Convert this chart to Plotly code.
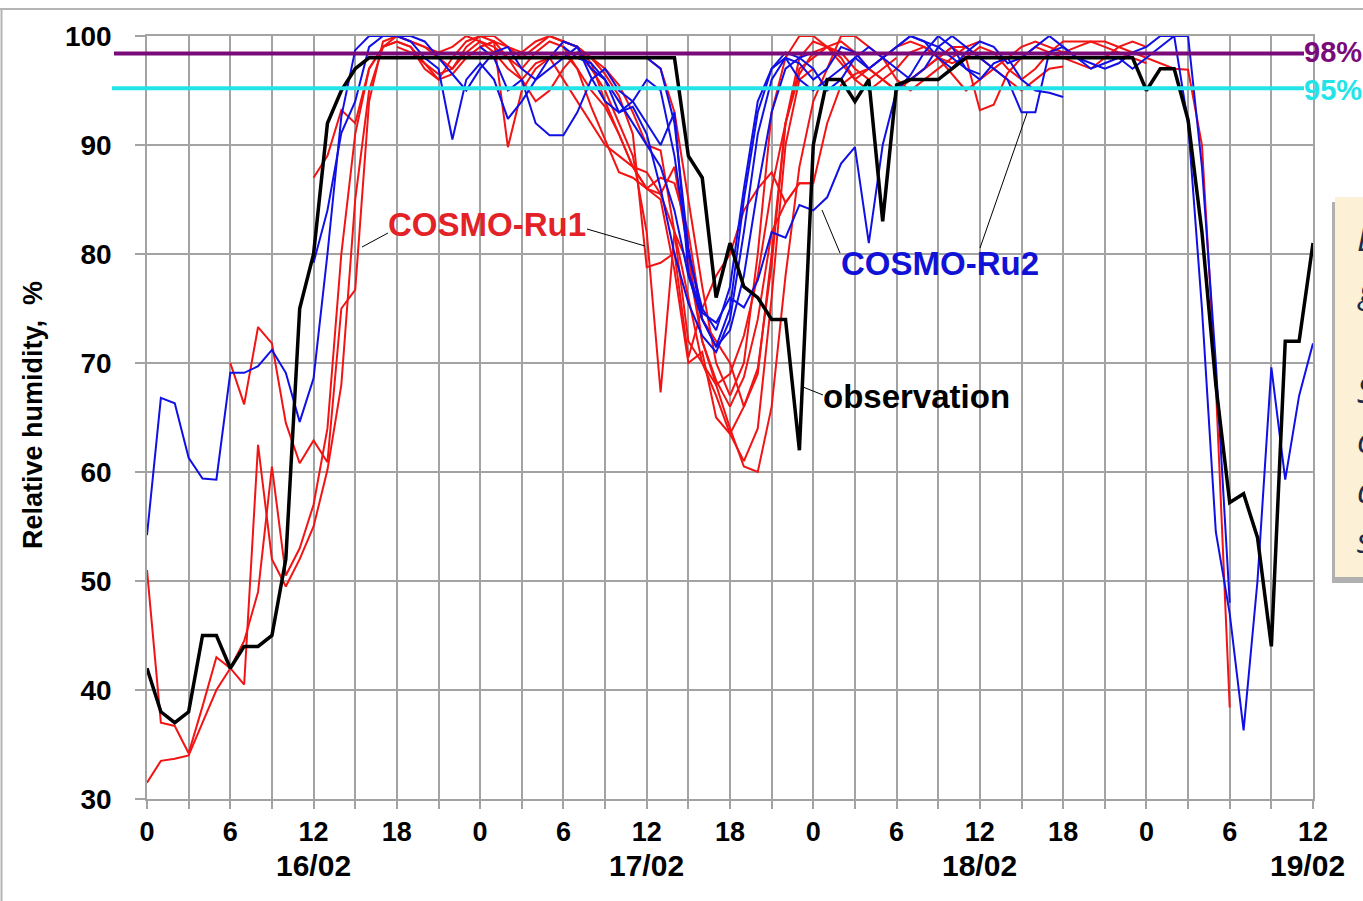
import plotly.graph_objects as go

# ---------------- data ----------------
hours_obs = list(range(0, 85))
observation = [42, 38, 37, 38, 45, 45,
               42, 44, 44, 45, 52, 75,
               80, 92, 95, 97, 98, 98,
               98, 98, 98, 98, 98, 98,
               98, 98, 98, 98, 98, 98,
               98, 98, 98, 98, 98, 98,
               98, 98, 98, 89, 87, 76,
               81, 77, 76, 74, 74, 62,
               90, 96, 96, 94, 96, 83,
               95.5, 96, 96, 96, 97, 98,
               98, 98, 98, 98, 98, 98,
               98, 98, 98, 98, 98, 98,
               95, 97, 97, 92.3, 82, 68,
               57.2, 58, 54, 44, 72, 72,
               81]

# COSMO-Ru1 forecast runs (start hour, hourly values)
ru1_starts = [0, 0, 6, 12, 18, 24, 30, 36]
ru1_r1 = [51, 37, 36.7, 34.2, 38.5, 43,
          42, 40.5, 62.5, 52, 49.5, 52,
          55, 60.2, 68, 85, 95, 99,
          99.5, 99, 97.5, 96.5, 97, 98.5,
          99.5, 99, 98, 97, 98.5, 99.5,
          99, 97, 93.5, 90.5, 87.5, 87,
          86, 85.5, 88, 80, 72, 68.4,
          66, 68.7, 74, 82, 84.7, 86.5,
          86.5]
ru1_r2 = [31.5, 33.5, 33.7, 34, 37, 40,
          42, 44.5, 49, 60.5, 50.5, 53,
          57, 64, 80, 91, 97, 99,
          100, 99.5, 99, 98.5, 99, 100,
          99.5, 98.5, 97, 96, 97.5, 98,
          96, 94, 92, 90, 89, 88,
          87.5, 85.5, 82, 76, 70, 67,
          63.5, 61, 64, 76, 90, 96,
          97]
ru1_r3 = [70, 66.2, 73.3, 71.8, 64.5, 60.8,
          62.9, 60.9, 75, 76.7, 94, 99.5,
          100, 99.5, 99, 98, 97, 99,
          100, 100, 99, 98, 99, 100,
          99.5, 99, 97.5, 94, 91, 88,
          86, 85, 78.5, 70, 71, 65,
          63.5, 66, 69, 80, 92, 98,
          99.5, 99, 98.5, 97, 96, 97,
          98]
ru1_r4 = [87, 89, 93.2, 92, 97, 99,
          99.5, 99, 97, 96, 98, 99.5,
          100, 99.5, 98, 96, 94, 95,
          97, 98.5, 97, 95, 92, 89,
          82, 67.3, 82, 79, 72, 68,
          64, 60.5, 60, 66, 78, 88,
          94, 97, 100, 100, 99, 98,
          96, 95, 96, 97, 98, 99,
          99.5]
ru1_r5 = [99, 98.5, 97.5, 96, 96.5, 98,
          99, 99.5, 89.8, 95, 97, 98,
          98.5, 97, 95, 93.5, 91, 88,
          86, 87, 86.5, 82, 74, 72,
          70, 66, 69.5, 79, 92, 97,
          98, 99, 99.5, 98.5, 97, 96,
          95, 96, 97, 98, 99, 99,
          98, 97, 96, 95, 96, 97,
          97.2]
ru1_r6 = [99, 99.5, 99, 98.5, 99.5, 100,
          99.5, 99, 98, 96.5, 94.5, 91,
          78.8, 79.2, 80.1, 70.5, 75, 78,
          80, 84, 86, 87.5, 84.7, 86.5,
          86.5, 92, 95.5, 96.5, 97, 96,
          95, 96, 97, 98, 99, 98,
          93.2, 93.7, 96.6, 98, 99, 98.5,
          98, 97.5, 97, 98, 99, 99.5,
          99]
ru1_r7 = [99.5, 99, 98, 97, 95.5, 93,
          90, 89.5, 82, 72, 70, 68,
          69, 72.5, 78, 86, 92, 96.5,
          98.5, 99, 97.5, 96, 95, 96,
          97, 98.5, 99, 98, 96.5, 95,
          96, 97, 98, 99, 99.5, 99,
          98.5, 99, 99.5, 99.5, 99, 98.5,
          98, 97.5, 97, 96.9, 90, 68,
          38.4]
ru1_r8 = [98, 97, 93, 85, 77, 70,
          67, 70, 80, 93, 98, 100,
          100, 99, 98, 96, 97, 98,
          99, 99.5, 99, 98, 97.5, 98,
          99, 98.5, 97, 96, 97, 98.5,
          99.5, 99.5, 99.5, 99, 98.5, 98,
          97.5]
ru1_runs = [ru1_r1, ru1_r2, ru1_r3, ru1_r4, ru1_r5, ru1_r6, ru1_r7, ru1_r8]

# COSMO-Ru2 forecast runs
ru2_starts = [0, 12, 24, 36, 30]
ru2_r1 = [54.2, 66.8, 66.3, 61.3, 59.4, 59.3,
          69.1, 69.1, 69.7, 71.2, 69.1, 64.6,
          68.6, 80, 92.6, 98.7, 100, 100,
          100, 100, 99.5, 98, 96.5, 95,
          97, 98.5, 99, 97, 96, 98,
          99.5, 99, 97, 96, 94, 92,
          90, 88, 84, 78, 74, 71.5,
          73, 78, 86, 93, 97, 98,
          98.5]
ru2_r2 = [79.2, 84, 91.1, 94, 99, 100,
          100, 99.5, 98, 97, 90.5, 96,
          97.5, 96, 92.4, 94, 96, 97,
          98, 99, 96.2, 94, 93, 93.5,
          91, 86, 80, 75.5, 72.5, 71,
          74, 82, 91, 96, 98, 97.5,
          96, 97, 99, 98.5, 97, 98,
          99, 100, 99.5, 99, 98, 97,
          96.5]
ru2_r3 = [99, 98, 95, 96, 92, 90.9,
          90.9, 93, 96, 97, 95, 94,
          92, 90, 93, 78.3, 74.6, 73.7,
          76, 75.1, 77.6, 82, 81.5, 84.5,
          84, 85.2, 88.3, 89.8, 81, 90,
          95, 96.4, 98.5, 100, 99, 97,
          96, 97.5, 98, 96, 95, 94.8,
          94.4]
ru2_r4 = [98, 97, 92, 80.6, 74, 71.5,
          75, 85, 93, 97, 98.5, 98,
          97, 95, 96, 98, 97, 98,
          99, 100, 99.5, 98, 97, 98.5,
          99.5, 99, 97.5, 98, 99, 100,
          99, 98, 97, 97.5, 98, 97,
          98, 99, 100, 92, 75, 54.5,
          47, 36.3, 50, 69.6, 59.3, 67,
          71.8]
ru2_r5 = [99, 98, 97.5, 96, 93, 94,
          96, 95, 89, 80, 75, 73,
          77, 86, 94, 97, 98, 96,
          95, 96, 97, 98, 99, 98,
          97, 96, 97, 99, 100, 99,
          98, 97, 96, 93, 93, 98.5,
          99, 98, 97.5, 97, 97.5, 98.5,
          99, 100, 100, 100, 88, 70,
          48]
ru2_runs = [ru2_r1, ru2_r2, ru2_r3, ru2_r4, ru2_r5]

threshold_98 = 98.4
threshold_95 = 95.2

xtick_vals = [0, 3, 6, 9, 12, 15, 18, 21, 24, 27, 30, 33, 36, 39, 42,
              45, 48, 51, 54, 57, 60, 63, 66, 69, 72, 75, 78, 81, 84]
xtick_text = ["0", "", "6", "", "12", "", "18", "", "0", "", "6", "", "12", "", "18",
              "", "0", "", "6", "", "12", "", "18", "", "0", "", "6", "", "12"]
day_labels = ["16/02", "17/02", "18/02", "19/02"]
day_label_x = [12, 36, 60, 84]
ytick_vals = [30, 40, 50, 60, 70, 80, 90, 100]

# ---------------- styling ----------------
FONT = "Liberation Sans, Arial, sans-serif"
RED = "#F21414"
BLUE = "#1010E6"
GRID = "#A3A3A3"
W, H = 1363, 901
ML, MR, MT, MB = 147, 50, 36, 102
PW, PH = W - ML - MR, H - MT - MB


def px(xp):
    return (xp - ML) / PW


def py(yp):
    return (H - MB - yp) / PH


fig = go.Figure()

for s, vals in zip(ru1_starts, ru1_runs):
    fig.add_trace(go.Scatter(x=list(range(s, s + len(vals))), y=vals, mode="lines",
                             line=dict(color=RED, width=2), showlegend=False,
                             name="COSMO-Ru1"))
for s, vals in zip(ru2_starts, ru2_runs):
    fig.add_trace(go.Scatter(x=list(range(s, s + len(vals))), y=vals, mode="lines",
                             line=dict(color=BLUE, width=2), showlegend=False,
                             name="COSMO-Ru2"))
fig.add_trace(go.Scatter(x=hours_obs, y=observation, mode="lines",
                         line=dict(color="black", width=3.5), showlegend=False,
                         name="observation"))

shapes = []
# threshold lines
shapes.append(dict(type="line", xref="paper", yref="y", x0=px(114), x1=px(1304),
                   y0=threshold_98, y1=threshold_98, line=dict(color="#7A0A7A", width=4),
                   layer="above"))
shapes.append(dict(type="line", xref="paper", yref="y", x0=px(112), x1=px(1304),
                   y0=threshold_95, y1=threshold_95, line=dict(color="#22E4E8", width=4),
                   layer="above"))
# leader lines (annotation pointers)
leaders = [((388, 233), (362, 247)), ((587, 229), (645, 246)),
           ((840, 253), (822, 210)), ((980, 248), (1027, 113)),
           ((823, 395), (803, 387))]
for (a, b) in leaders:
    shapes.append(dict(type="line", xref="paper", yref="paper",
                       x0=px(a[0]), y0=py(a[1]), x1=px(b[0]), y1=py(b[1]),
                       line=dict(color="black", width=1), layer="above"))
# slide frame
shapes.append(dict(type="line", xref="paper", yref="paper", x0=px(0), x1=px(W),
                   y0=py(9), y1=py(9), line=dict(color="#B4B4B4", width=2)))
shapes.append(dict(type="line", xref="paper", yref="paper", x0=px(1.5), x1=px(1.5),
                   y0=py(9), y1=py(H), line=dict(color="#B4B4B4", width=2)))
# cropped note box at the right
shapes.append(dict(type="rect", xref="paper", yref="paper", x0=px(1332), x1=px(W + 10),
                   y0=py(583), y1=py(202), fillcolor="rgba(80,80,80,0.45)",
                   line=dict(width=0), layer="above"))
shapes.append(dict(type="rect", xref="paper", yref="paper", x0=px(1335), x1=px(W + 10),
                   y0=py(577), y1=py(197), fillcolor="#FCF0D6",
                   line=dict(width=0), layer="above"))


def ann(text, x, y, size, color, xanchor="center", family=FONT, **kw):
    d = dict(text=text, xref="paper", yref="paper", x=px(x), y=py(y),
             xanchor=xanchor, yanchor="middle", showarrow=False,
             font=dict(family=family, size=size, color=color))
    d.update(kw)
    return d


annotations = [
    ann("<b>COSMO-Ru1</b>", 487, 225, 33, "#E32228"),
    ann("<b>COSMO-Ru2</b>", 940, 263, 33, "#1212D6"),
    ann("<b>observation</b>", 916, 397, 33, "black"),
    ann("<b>98%</b>", 1302, 52, 29, "#7A0A7A", xanchor="left"),
    ann("<b>95%</b>", 1302, 90, 29, "#22E4E8", xanchor="left"),
    ann("<b>Relative humidity,  %</b>", 33, 415, 27, "black", textangle=-90),
]
for lab, hx in zip(day_labels, day_label_x):
    shift = -6 if hx == 84 else 0
    annotations.append(dict(text="<b>" + lab + "</b>", xref="x", yref="paper",
                            x=hx, y=py(865), xshift=shift, xanchor="center",
                            yanchor="middle", showarrow=False,
                            font=dict(family=FONT, size=30, color="black")))
for letter, yy in zip(["L", "g", "S", "c", "a", "s"], [238, 290, 390, 440, 490, 540]):
    annotations.append(ann("<i>" + letter + "</i>", 1355, yy, 34, "#1E2A48",
                           xanchor="left", family="Open Sans, sans-serif"))

fig.update_layout(
    width=W, height=H, autosize=False,
    margin=dict(l=ML, r=MR, t=MT, b=MB),
    paper_bgcolor="white", plot_bgcolor="white",
    shapes=shapes, annotations=annotations,
    font=dict(family=FONT, color="black"),
    xaxis=dict(range=[0, 84], tickmode="array", tickvals=xtick_vals, ticktext=xtick_text,
               showgrid=True, gridcolor=GRID, gridwidth=1.5,
               ticks="outside", ticklen=8, tickcolor=GRID, tickwidth=1.5,
               showline=True, linecolor=GRID, linewidth=1.5, mirror=True,
               zeroline=False, ticklabelstandoff=0,
               tickfont=dict(family=FONT, size=27, color="black", weight="bold")),
    yaxis=dict(range=[30, 100], tickmode="array", tickvals=ytick_vals,
               showgrid=True, gridcolor=GRID, gridwidth=1.5,
               ticks="outside", ticklen=10, tickcolor=GRID, tickwidth=1.5,
               showline=True, linecolor=GRID, linewidth=1.5, mirror=True,
               zeroline=False, ticklabelstandoff=18,
               tickfont=dict(family=FONT, size=28, color="black", weight="bold")),
)

fig.write_html("out.html")
